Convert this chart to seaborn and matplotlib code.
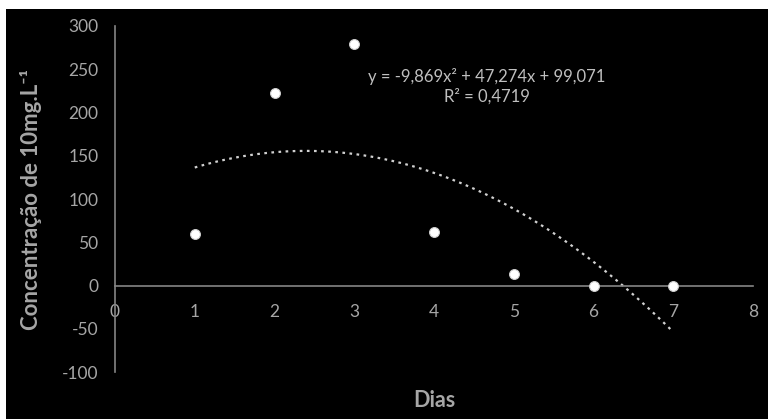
import numpy as np
import pandas as pd
import seaborn as sns
import matplotlib.pyplot as plt
from matplotlib.patches import Rectangle

# data
dias = [1, 2, 3, 4, 5, 6, 7]
concentracao = [59, 222, 279, 62, 13, 0, 0]
y_ticks = [-100, -50, 0, 50, 100, 150, 200, 250, 300]
x_ticks = [0, 1, 2, 3, 4, 5, 6, 7, 8]
equation = "y = -9,869x² + 47,274x + 99,071\nR² = 0,4719"

df = pd.DataFrame({"Dias": dias, "conc": concentracao})

sns.set_style("dark")
plt.rcParams['font.family'] = ['Lato', 'DejaVu Sans']
plt.rcParams['axes.unicode_minus'] = False

gray_txt = '#a6a6a6'
gray_ax = '#858585'

fig = plt.figure(figsize=(7.68, 4.19), dpi=100, facecolor='white')
# black chart area with the thin white margin top/left
fig.patches.append(Rectangle((6 / 768, 0), 1, 1 - 9 / 419, transform=fig.transFigure,
                             facecolor='black', edgecolor='none', zorder=-10))

ax = fig.add_axes([115 / 768, 47 / 419, 638 / 768, 346 / 419])
ax.set_facecolor('none')

sns.regplot(data=df, x="Dias", y="conc", order=2, ci=None, scatter=False, truncate=True,
            line_kws={'color': '#d0d0d0', 'lw': 1.6, 'linestyle': (0, (1.2, 2.0))}, ax=ax)
sns.scatterplot(data=df, x="Dias", y="conc", s=50, color='white', edgecolor='#cfcfcf',
                linewidth=0.8, zorder=5, ax=ax)

ax.set_xlim(0, 8)
ax.set_ylim(-100, 300)
ax.set_xticks(x_ticks)
ax.set_yticks(y_ticks)
ax.grid(False)

for s in ['top', 'right']:
    ax.spines[s].set_visible(False)
ax.spines['left'].set_color(gray_ax)
ax.spines['left'].set_linewidth(1.2)
ax.spines['bottom'].set_color(gray_ax)
ax.spines['bottom'].set_linewidth(1.2)
ax.spines['bottom'].set_position(('data', 0))

ax.tick_params(axis='both', length=0, labelcolor=gray_txt, labelsize=12.5)
ax.tick_params(axis='x', pad=13)
ax.tick_params(axis='y', pad=12)

ax.set_xlabel("Dias", fontsize=15.5, fontweight='bold', color=gray_txt)
ax.set_ylabel("Concentração de 10mg.L⁻¹", fontsize=16, fontweight='bold', color=gray_txt)
ax.xaxis.set_label_coords(0.5, -0.052)
ax.yaxis.set_label_coords(-0.131, 0.5)
ax.yaxis.label.set_va('center')

ax.text(0.583, 0.826, equation, transform=ax.transAxes, ha='center', va='center',
        multialignment='center', fontsize=12, color='#bfbfbf', linespacing=1.3)

fig.savefig("out.png", dpi=100, facecolor='white')
